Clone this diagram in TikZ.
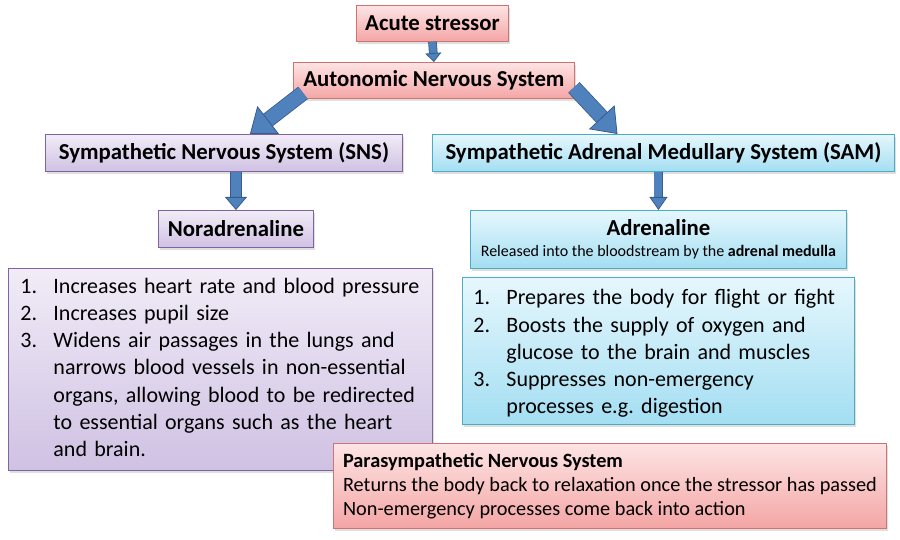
\documentclass[tikz,border=0pt]{standalone}
\usepackage{fontspec}
\setmainfont{Carlito}
\usepackage{tikz}
\usetikzlibrary{arrows.meta, positioning, shadows}
\definecolor{stressred}{HTML}{C0504D}
\definecolor{pinktop}{HTML}{FDE4E4}
\definecolor{pinkbot}{HTML}{F4A5A5}
\definecolor{snspurple}{HTML}{8064A2}
\definecolor{lavtop}{HTML}{F1ECF7}
\definecolor{lavbot}{HTML}{CFC1E3}
\definecolor{samcyan}{HTML}{4BACC6}
\definecolor{cyantop}{HTML}{E6F7FD}
\definecolor{cyanbot}{HTML}{A3DEF2}
\definecolor{arrowblue}{HTML}{4F81BD}
\definecolor{arrowdark}{HTML}{385D8A}

\begin{document}
\begin{tikzpicture}[
    x=1pt, y=-1pt,
    box/.style={anchor=north west, inner sep=0pt, line width=0.9pt,
                drop shadow={opacity=0.25, shadow xshift=2pt, shadow yshift=-3pt}},
    pink box/.style={box, draw=stressred!80, top color=pinktop, bottom color=pinkbot},
    lilac box/.style={box, draw=snspurple, top color=lavtop, bottom color=lavbot},
    cyan box/.style={box, draw=samcyan, top color=cyantop, bottom color=cyanbot},
    head/.style={font=\fontsize{22.8}{26}\selectfont\bfseries},
    effects/.style={align=left, inner ysep=0pt,
                    font=\fontsize{22}{27.2}\selectfont},
    blockarrow/.style n args={3}{draw=arrowblue, line width=#1,
        -{Triangle[length=#2, width=#3, color=arrowdark, fill=arrowblue, line width=0.8pt]},
        preaction={draw=arrowdark, line width=#1+1.6pt, arrows=-, shorten >=#2-1pt}}
  ]
    \useasboundingbox[fill=white] (0,0) rectangle (900,540);

    % Top of the chain
    \node[pink box, head, minimum width=152, minimum height=36] (acute) at (356,5) {Acute stressor};
    \node[pink box, head, minimum width=281, minimum height=36] (ans) at (293,62) {Autonomic Nervous System};

    % The two branches
    \node[lilac box, head, minimum width=357, minimum height=37] (sns) at (45,134) {Sympathetic Nervous System (SNS)};
    \node[cyan box, head, minimum width=462, minimum height=37] (sam) at (432,134) {Sympathetic Adrenal Medullary System (SAM)};

    % Hormones
    \node[lilac box, head, minimum width=155, minimum height=37] (nor) at (158,210) {Noradrenaline};
    \node[cyan box, minimum width=376, minimum height=58, align=center] (adr) at (470,210)
      {{\fontsize{22.8}{26}\selectfont\bfseries Adrenaline}\\[9pt]
       {\fontsize{16}{18}\selectfont Released into the bloodstream by the \textbf{adrenal medulla}}};

    % Effects
    \node[lilac box, effects, inner xsep=12pt, text width=400, minimum height=202] (noreff) at (8,268)
      {\begin{tabular}{@{}p{33pt}@{}l@{}}
         1. & Increases heart rate and blood pressure\\
         2. & Increases pupil size\\
         3. & Widens air passages in the lungs and\\
            & narrows blood vessels in non-essential\\
            & organs, allowing blood to be redirected\\
            & to essential organs such as the heart\\
            & and brain.
       \end{tabular}};
    \node[cyan box, effects, inner xsep=11pt, text width=370, minimum height=147] (adreff) at (462,277)
      {\raisebox{-3pt}[\height][\depth]{\begin{tabular}{@{}p{33pt}@{}l@{}}
         1. & Prepares the body for flight or fight\\
         2. & Boosts the supply of oxygen and\\
            & glucose to the brain and muscles\\
         3. & Suppresses non-emergency\\
            & processes e.g.\ digestion
       \end{tabular}}};

    % Parasympathetic
    \node[pink box, align=left, inner xsep=9pt, minimum width=553, minimum height=85,
          font=\fontsize{20.3}{24}\selectfont] (para) at (333,443)
      {\textbf{Parasympathetic Nervous System}\\
       Returns the body back to relaxation once the stressor has passed\\
       Non-emergency processes come back into action};

    % Arrows
    \draw[blockarrow={7pt}{9pt}{16pt}] (acute.south) -- (ans.north);
    \draw[blockarrow={14pt}{23pt}{35pt}] ([xshift=10pt,yshift=6pt]ans.south west) -- ([xshift=26pt]sns.north);
    \draw[blockarrow={14pt}{23pt}{35pt}] ([xshift=-1pt,yshift=-7pt]ans.east) -- ([xshift=-46pt]sam.north);
    \draw[blockarrow={10pt}{13pt}{22pt}] ([xshift=12pt]sns.south) -- (nor.north);
    \draw[blockarrow={8pt}{13pt}{18pt}] (adr.north |- sam.south) -- (adr.north);
  \end{tikzpicture}
\end{document}
